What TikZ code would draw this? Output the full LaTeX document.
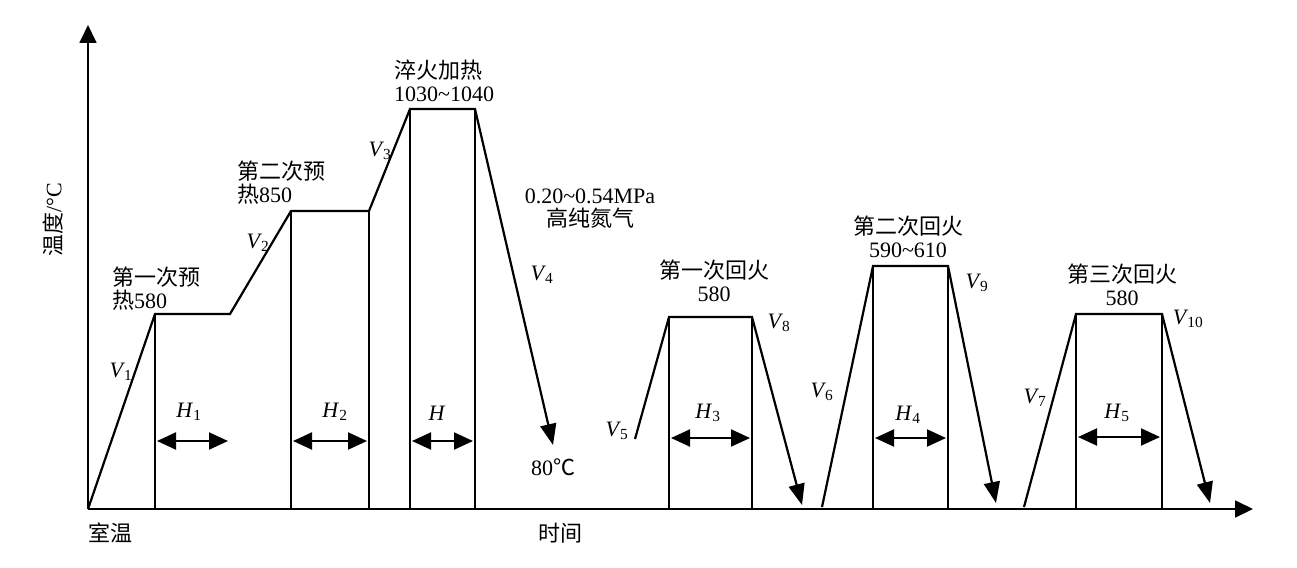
\documentclass[tikz,border=0pt]{standalone}
\usepackage{fontspec}
\setmainfont{Liberation Serif}
\newfontfamily\cjk{Noto Sans CJK SC}
\usepackage{tikz}
\usetikzlibrary{arrows.meta,calc}
\newcommand{\Vs}[1]{\textit{V}\kern-1pt\textsubscript{#1}}
\newcommand{\Hs}[1]{\textit{H}\textsubscript{#1}}
\tikzset{lbl/.style={inner sep=0pt, font=\fontsize{22}{23}\selectfont}}
\tikzstyle{axis}=[line width=1.8pt, -{Triangle[length=18pt,width=17pt]}]
\tikzstyle{curve}=[line width=2.2pt]
\tikzstyle{vline}=[line width=1.8pt]
\tikzstyle{down}=[-{Triangle[length=21pt,width=16pt]}]
\tikzstyle{dbl}=[line width=2pt, {Triangle[length=19pt,width=17pt]}-{Triangle[length=19pt,width=17pt]}]

\begin{document}
\begin{tikzpicture}[x=1pt, y=-1pt, line join=miter]
\useasboundingbox (0,0) rectangle (1297,567);
% axes
\coordinate (O) at (88,509);
\coordinate (ytop) at (88,25);
\coordinate (xend) at (1253,509);
\draw[axis] (O) -- (ytop);
\draw[axis] (O) -- (xend);
\node[lbl] (room) at (110,533) {\cjk 室温};
\node[lbl] (time) at (560,533) {\cjk 时间};
\node[lbl, rotate=90] (temp) at (53,220) {{\cjk 温度}/°C};

% preheating and quenching
\coordinate (a1) at (155,314);
\coordinate (a2) at (230,314);
\coordinate (b1) at (291,211);
\coordinate (b2) at (369,211);
\coordinate (c1) at (410,109);
\coordinate (c2) at (475,109);
\coordinate (c3) at (553,445);
\draw[curve, down] (O) -- (a1) -- (a2) -- (b1) -- (b2) -- (c1) -- (c2) -- (c3);
\draw[vline] (a1) -- (a1 |- O);
\draw[vline] (b1) -- (b1 |- O);
\draw[vline] (b2) -- (b2 |- O);
\draw[vline] (c1) -- (c1 |- O);
\draw[vline] (c2) -- (c2 |- O);

% tempering
\coordinate (d0) at (635,439);
\coordinate (d1) at (669,317);
\coordinate (d2) at (752,317);
\coordinate (d3) at (802,505);
\coordinate (e0) at (822,507);
\coordinate (e1) at (873,266);
\coordinate (e2) at (948,266);
\coordinate (e3) at (996,503);
\coordinate (f0) at (1024,507);
\coordinate (f1) at (1076,314);
\coordinate (f2) at (1162,314);
\coordinate (f3) at (1210,503);
\draw[curve, down] (d0) -- (d1) -- (d2) -- (d3);
\draw[curve, down] (e0) -- (e1) -- (e2) -- (e3);
\draw[curve, down] (f0) -- (f1) -- (f2) -- (f3);
\draw[vline] (d1) -- (d1 |- O);
\draw[vline] (d2) -- (d2 |- O);
\draw[vline] (e1) -- (e1 |- O);
\draw[vline] (e2) -- (e2 |- O);
\draw[vline] (f1) -- (f1 |- O);
\draw[vline] (f2) -- (f2 |- O);

% holding times
\coordinate (h1l) at (157,441);
\coordinate (h1r) at (228,441);
\coordinate (h2l) at (293,441);
\coordinate (h2r) at (367,441);
\coordinate (hl) at (412,441);
\coordinate (hr) at (473,441);
\coordinate (h3l) at (671,438);
\coordinate (h3r) at (750,438);
\coordinate (h4l) at (875,438);
\coordinate (h4r) at (946,438);
\coordinate (h5l) at (1078,437);
\coordinate (h5r) at (1160,437);
\draw[dbl] (h1l) -- (h1r);
\draw[dbl] (h2l) -- (h2r);
\draw[dbl] (hl) -- (hr);
\draw[dbl] (h3l) -- (h3r);
\draw[dbl] (h4l) -- (h4r);
\draw[dbl] (h5l) -- (h5r);
\node[lbl] (H1) at (189,412) {\Hs{1}};
\node[lbl] (H2) at (335,412) {\Hs{2}};
\node[lbl] (H) at (437,413) {\textit{H}};
\node[lbl] (H3) at (708,413) {\Hs{3}};
\node[lbl] (H4) at (908,415) {\Hs{4}};
\node[lbl] (H5) at (1117,413) {\Hs{5}};

% rates
\node[lbl] (V1) at (121,372) {\Vs{1}};
\node[lbl] (V2) at (258,243) {\Vs{2}};
\node[lbl] (V3) at (380,151) {\Vs{3}};
\node[lbl] (V4) at (542,275) {\Vs{4}};
\node[lbl] (V5) at (617,431) {\Vs{5}};
\node[lbl] (V6) at (822,392) {\Vs{6}};
\node[lbl] (V7) at (1035,398) {\Vs{7}};
\node[lbl] (V8) at (779,323) {\Vs{8}};
\node[lbl] (V9) at (977,283) {\Vs{9}};
\node[lbl] (V10) at (1188,319) {\Vs{10}};

% stage texts
\node[lbl, anchor=west, align=left] (pre1) at (112,289) {{\cjk 第一次预}\\{\cjk 热}580};
\node[lbl, anchor=west, align=left] (pre2) at (237,183) {{\cjk 第二次预}\\{\cjk 热}850};
\node[lbl, anchor=west, align=left] (quench) at (394,81) {{\cjk 淬火加热}\\1030\textasciitilde1040};
\node[lbl, align=center] (gas) at (590,209) {0.20\textasciitilde0.54MPa\\{\cjk 高纯氮气}};
\node[lbl] (end) at (553,467) {80{\cjk ℃}};
\node[lbl, align=center] (tem1) at (714,281) {{\cjk 第一次回火}\\580};
\node[lbl, align=center] (tem2) at (908,237) {{\cjk 第二次回火}\\590\textasciitilde610};
\node[lbl, align=center] (tem3) at (1122,285) {{\cjk 第三次回火}\\580};
\end{tikzpicture}
\end{document}
